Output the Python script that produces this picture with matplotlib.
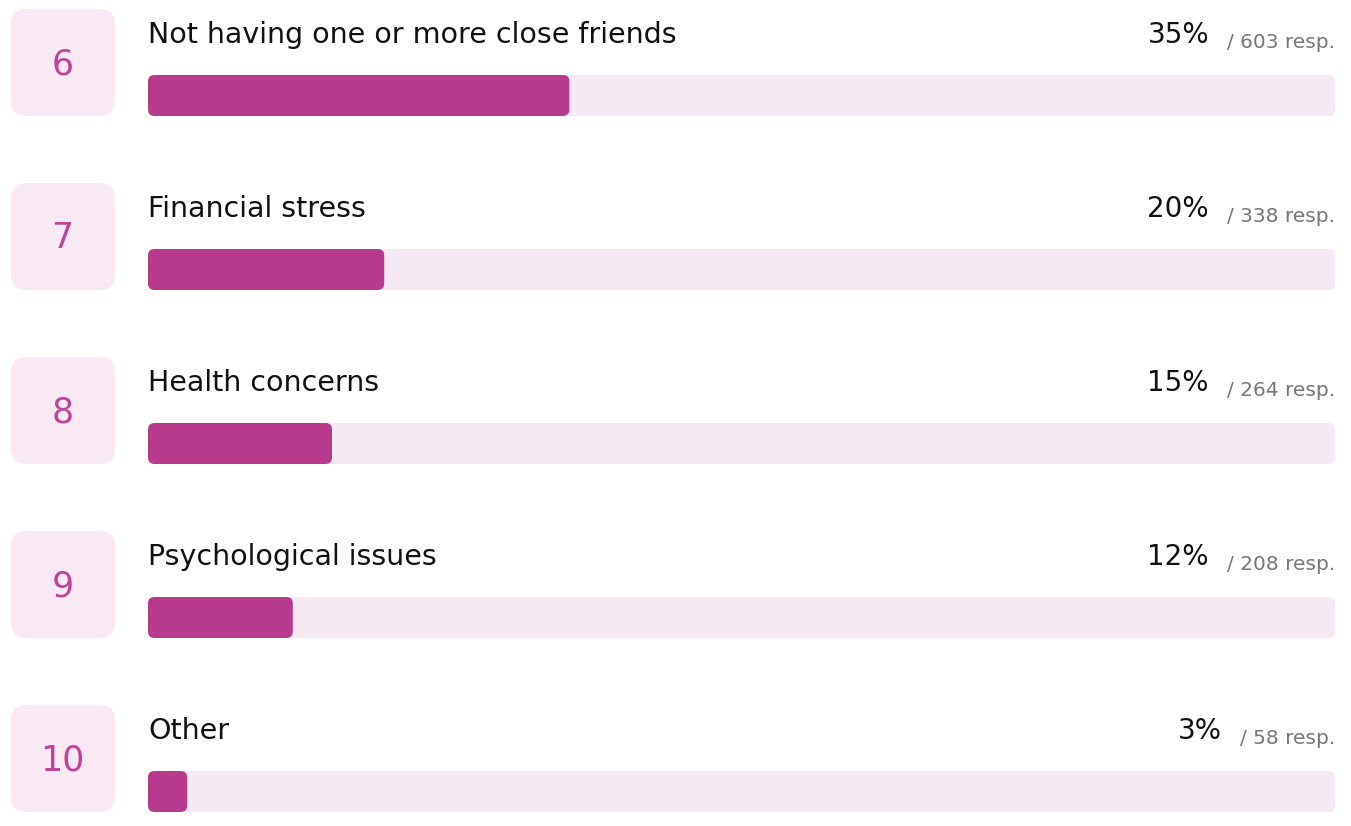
import matplotlib
matplotlib.use("Agg")
import matplotlib.pyplot as plt
from matplotlib.patches import FancyBboxPatch

ranks = ["6", "7", "8", "9", "10"]
categories = ["Not having one or more close friends", "Financial stress",
              "Health concerns", "Psychological issues", "Other"]
pct_labels = ["35%", "20%", "15%", "12%", "3%"]
resp_labels = ["/ 603 resp.", "/ 338 resp.", "/ 264 resp.", "/ 208 resp.", "/ 58 resp."]
bar_values = [35.5, 19.9, 15.5, 12.2, 3.3]

W, H = 1351, 826
DPI = 100
BAR_COLOR = "#B83A8C"
TRACK_COLOR = "#F7E9F3"
BADGE_COLOR = "#F8E9F4"
NUM_COLOR = "#C0439A"
FONT = "DejaVu Sans"

fig = plt.figure(figsize=(W / DPI, H / DPI), dpi=DPI)
fig.patch.set_facecolor("white")

# layout (pixels)
left_px, right_px = 148, 1335
pitch = 174.0
first_center = 95.5
ax = fig.add_axes([left_px / W, 0, (right_px - left_px) / W, 1])
ax.set_xlim(0, 100)
ax.set_ylim((H - first_center) / pitch, -first_center / pitch)
ax.axis("off")

xpx = (right_px - left_px) / 100.0  # px per x unit
aspect = xpx / pitch

track_h = 41 / pitch
badge_h = 107 / pitch
badge_x0 = (11 - left_px) / xpx
badge_w = 104 / xpx
badge_dy = -33 / pitch

renderer = fig.canvas.get_renderer()

for i, (rk, cat, pl, rl, v) in enumerate(zip(ranks, categories, pct_labels, resp_labels, bar_values)):
    y = i
    # track
    ax.add_patch(FancyBboxPatch((0, y - track_h / 2), 100, track_h,
                                boxstyle="round,pad=0,rounding_size=0.55",
                                mutation_aspect=aspect, fc=TRACK_COLOR, ec="none", clip_on=False))
    # bar
    ax.add_patch(FancyBboxPatch((0, y - track_h / 2), v, track_h,
                                boxstyle="round,pad=0,rounding_size=0.55",
                                mutation_aspect=aspect, fc=BAR_COLOR, ec="none", clip_on=False))
    # badge
    by = y + badge_dy
    ax.add_patch(FancyBboxPatch((badge_x0, by - badge_h / 2), badge_w, badge_h,
                                boxstyle="round,pad=0,rounding_size=1.3",
                                mutation_aspect=aspect, fc=BADGE_COLOR, ec="none", clip_on=False))
    ax.text(badge_x0 + badge_w / 2 - 0.05, by - 1.5 / pitch, rk, ha="center", va="center_baseline",
            fontsize=25, color=NUM_COLOR, family=FONT, clip_on=False)
    # title
    ax.text(0, y - 52.5 / pitch, cat, ha="left", va="baseline", fontsize=20.5,
            color="#111111", family=FONT)
    # resp
    rt = ax.text(100, y - 48 / pitch, rl, ha="right", va="baseline", fontsize=14.5,
                 color="#777777", family=FONT)
    bb = rt.get_window_extent(renderer)
    x_left = ax.transData.inverted().transform((bb.x0, 0))[0]
    ax.text(x_left - 18 / xpx, y - 52.5 / pitch, pl, ha="right", va="baseline", fontsize=20,
            color="#111111", family=FONT)

fig.savefig("out.png", dpi=DPI, facecolor="white")
